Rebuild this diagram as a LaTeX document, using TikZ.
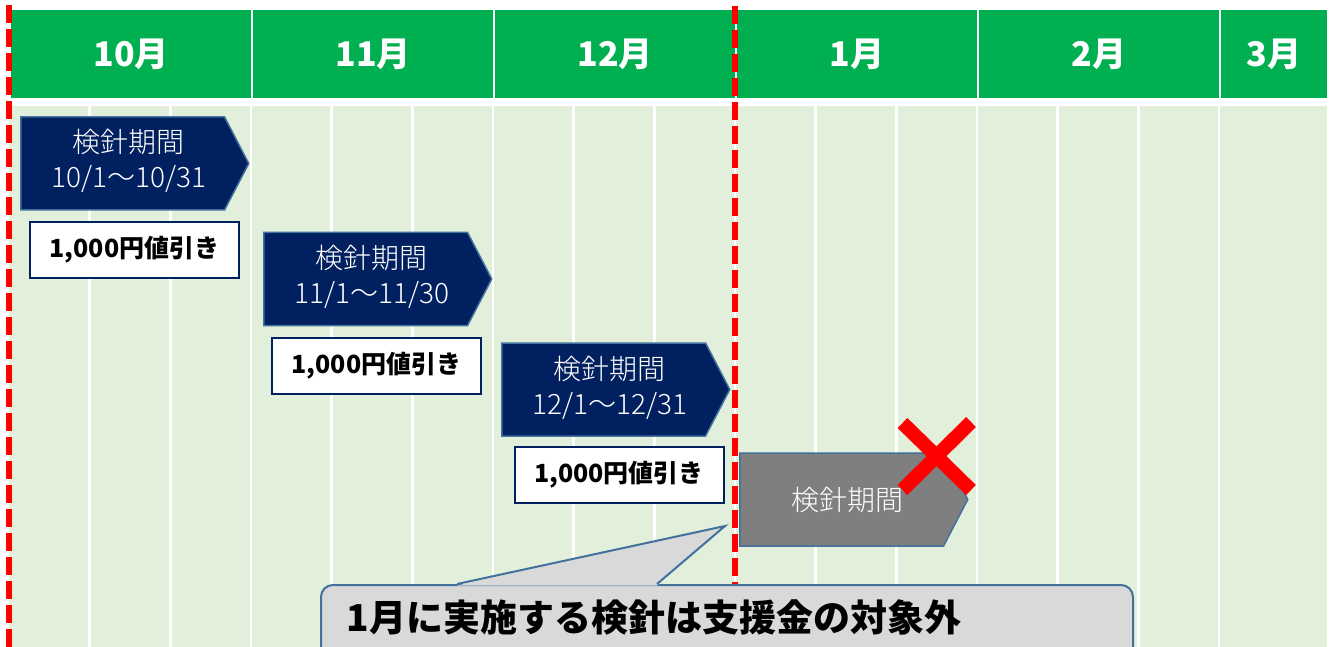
\documentclass[tikz,border=0pt]{standalone}
\usepackage{fontspec}
\setmainfont{Noto Sans CJK JP}
\IfFontExistsTF{Noto Sans CJK JP Light}
  {\newfontfamily\kikanfont{Noto Sans CJK JP Light}}
  {\newfontfamily\kikanfont{Noto Sans CJK JP}}
\usetikzlibrary{shapes.symbols,positioning}

\definecolor{headgreen}{HTML}{00B050}
\definecolor{bodygreen}{HTML}{E2EFDA}
\definecolor{kikannavy}{HTML}{002060}
\definecolor{edgeblue}{HTML}{41719C}
\definecolor{kikangray}{HTML}{7F7F7F}
\definecolor{notegray}{HTML}{D9D9D9}

\begin{document}
\begin{tikzpicture}[
    x=1pt, y=-1pt,
    month/.style={
		rectangle,
		draw=white,
		line width=2pt,
		fill=headgreen,
		anchor=north west,
		minimum height=90pt,
		text=white,
		font=\fontsize{34}{40}\selectfont\bfseries
	},
    kikan/.style={
		signal,
		signal to=east,
		signal pointer angle=125,
		draw=edgeblue,
		line width=1.5pt,
		fill=kikannavy,
		anchor=west,
		minimum width=228pt,
		minimum height=93pt,
		inner sep=0pt
	},
    kikantext/.style={
		text=white,
		font=\fontsize{28}{35}\selectfont\kikanfont
	},
    waribiki/.style={
		rectangle,
		draw=kikannavy,
		line width=2pt,
		fill=white,
		minimum width=209pt,
		minimum height=56pt,
		font=\fontsize{25}{30}\selectfont\bfseries
	},
    limit/.style={
		red,
		line width=5.5pt,
		dash pattern=on 18pt off 6pt
	},
    batsu/.style={
		red,
		line width=14pt
	},
    notebox/.style={
		rectangle,
		rounded corners=12pt,
		draw=edgeblue,
		line width=2pt,
		fill=notegray,
		anchor=north west,
		minimum width=812pt,
		minimum height=90pt
	}
  ]
  \useasboundingbox (0,0) rectangle (1333,647);

  % header and month columns
  \node [month, minimum width=242pt] (oct) at (9,8) {10月};
  \node [month, minimum width=242pt] (nov) at (251,8) {11月};
  \node [month, minimum width=242pt] (dec) at (493,8) {12月};
  \node [month, minimum width=242pt] (jan) at (735,8) {1月};
  \node [month, minimum width=242pt] (feb) at (977,8) {2月};
  \node [month, minimum width=108pt] (mar) at (1219,8) {3月};

  \fill [bodygreen] (9,106) rectangle (1327,660);
  \foreach \k in {1,...,15}
    \draw [white, line width=2.5pt] ({9+80.667*\k},106) -- ({9+80.667*\k},660);

  % limits of the support period
  \draw [limit] (9,5) -- (9,650);
  \draw [limit] (735,6) -- (735,600);

  % reading periods
  \node [kikan] (kikan1) at (20,163.5) {};
  \node [kikantext] (kikan1text) at ([xshift=6pt]kikan1.center)
 {%
 \begin{tabular}{@{}c@{}}
  検針期間\\
  10/1〜10/31
 \end{tabular}
 };

  \node [kikan] (kikan2) at (263,279) {};
  \node [kikantext] (kikan2text) at ([xshift=6pt]kikan2.center)
 {%
 \begin{tabular}{@{}c@{}}
  検針期間\\
  11/1〜11/30
 \end{tabular}
 };

  \node [kikan] (kikan3) at (501,389.5) {};
  \node [kikantext] (kikan3text) at ([xshift=6pt]kikan3.center)
 {%
 \begin{tabular}{@{}c@{}}
  検針期間\\
  12/1〜12/31
 \end{tabular}
 };

  \node [kikan, fill=kikangray] (kikan4) at (739,499.5) {};
  \node [kikantext] (kikan4text) at ([xshift=6pt]kikan4.center) {検針期間};

  % discounts
  \node [waribiki] (waribiki1) at (134.5,250) {1,000円値引き};
  \node [waribiki] (waribiki2) at (376.5,365.5) {1,000円値引き};
  \node [waribiki] (waribiki3) at (619,474.5) {1,000円値引き};

  \draw [batsu] (902.5,423) -- (971,490);
  \draw [batsu] (971,422) -- (902.5,490);

  % callout
  \node [notebox] (note) at (320,584) {};
  \coordinate (notetip) at (725,526);
  \fill [notegray] ([xshift=137pt,yshift=-1.5pt]note.north west) -- (notetip)
    -- ([xshift=337pt,yshift=-1.5pt]note.north west) -- cycle;
  \draw [edgeblue, line width=2pt] ([xshift=137pt]note.north west) -- (notetip)
    -- ([xshift=337pt]note.north west);
  \node [anchor=west, font=\fontsize{37}{44}\selectfont\bfseries] (notelabel)
    at (343,617) {1月に実施する検針は支援金の対象外};

\end{tikzpicture}
\end{document}
